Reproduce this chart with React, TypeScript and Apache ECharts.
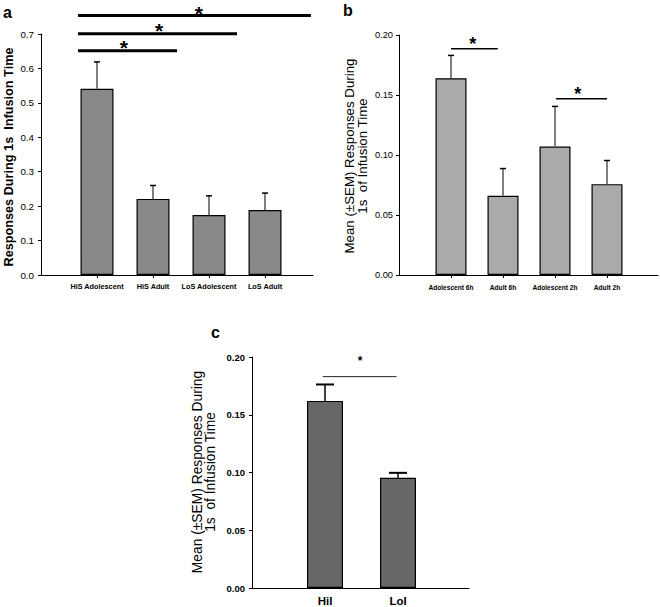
import React, { useEffect, useRef } from "react";
import * as echarts from "echarts";

// ---------- Data ----------
const A_CATS = ["HiS Adolescent", "HiS Adult", "LoS Adolescent", "LoS Adult"];
const A_POS = [1, 2, 3, 4];
const A_MEANS = [0.541, 0.221, 0.174, 0.189];
const A_SEM = [0.078, 0.039, 0.056, 0.049];
const A_TICKS = [0, 0.1, 0.2, 0.3, 0.4, 0.5, 0.6, 0.7];
// [x1, x2, y]
const A_SIG = [
  [0.66, 2.43, 0.651],
  [0.66, 3.5, 0.701],
  [0.66, 4.82, 0.754],
];
// [x, y]
const A_STARS = [
  [1.48, 0.674],
  [2.11, 0.725],
  [2.82, 0.7745],
];

const B_CATS = ["Adolescent 6h", "Adult 6h", "Adolescent 2h", "Adult 2h"];
const B_POS = [1, 2, 3, 4];
const B_MEANS = [0.164, 0.066, 0.107, 0.0757];
const B_SEM = [0.019, 0.0227, 0.0335, 0.0197];
const B_SIG = [
  [1.0, 1.9, 0.1886],
  [3.02, 4.0, 0.1469],
];
const B_STARS = [
  [1.42, 0.1958],
  [3.44, 0.1541],
];

const C_CATS = ["HiI", "LoI"];
const C_POS = [1, 2];
const C_MEANS = [0.162, 0.0954];
const C_SEM = [0.0142, 0.0043];
const C_SIG = [[0.97, 1.98, 0.183]];
const C_STARS = [[1.48, 0.1986]];

const FONT = "'Liberation Sans', Arial, sans-serif";

function errSeries(idx: number, pos: number[], means: number[], sem: number[], cap: number, stroke: string, lw: number, capW: number) {
  return {
    type: "custom",
    xAxisIndex: idx,
    yAxisIndex: idx,
    z: 5,
    data: pos.map((p, i) => [p, means[i], means[i] + sem[i]]),
    renderItem: (params: any, api: any) => {
      const x = api.value(0);
      const m = api.value(1);
      const t = api.value(2);
      const p0 = api.coord([x, m]);
      const p1 = api.coord([x, t]);
      return {
        type: "group",
        children: [
          { type: "line", shape: { x1: p0[0], y1: p0[1], x2: p1[0], y2: p1[1] }, style: { stroke, lineWidth: lw } },
          { type: "line", shape: { x1: p1[0] - cap / 2, y1: p1[1], x2: p1[0] + cap / 2, y2: p1[1] }, style: { stroke: "#000", lineWidth: capW } },
        ],
      };
    },
  };
}

function sigSeries(idx: number, sig: number[][], lw: number, color: string) {
  return {
    type: "custom",
    xAxisIndex: idx,
    yAxisIndex: idx,
    z: 5,
    clip: false,
    data: sig,
    renderItem: (params: any, api: any) => {
      const p0 = api.coord([api.value(0), api.value(2)]);
      const p1 = api.coord([api.value(1), api.value(2)]);
      return { type: "line", shape: { x1: p0[0], y1: p0[1], x2: p1[0], y2: p1[1] }, style: { stroke: color, lineWidth: lw } };
    },
  };
}

function starSeries(idx: number, stars: number[][], fs: number) {
  return {
    type: "custom",
    xAxisIndex: idx,
    yAxisIndex: idx,
    z: 5,
    clip: false,
    data: stars,
    renderItem: (params: any, api: any) => {
      const p = api.coord([api.value(0), api.value(1)]);
      return {
        type: "text",
        style: {
          text: "*",
          x: p[0],
          y: p[1] + 0.225 * fs,
          align: "center",
          verticalAlign: "middle",
          font: `bold ${fs}px ${FONT}`,
          fill: "#000",
        },
      };
    },
  };
}

function xAxis(idx: number, max: number, pos: number[], cats: string[], fs: number, margin: number, ticks: boolean) {
  return {
    type: "value",
    gridIndex: idx,
    min: 0,
    max,
    splitLine: { show: false },
    axisLine: { show: true, lineStyle: { color: "#000", width: 1 } },
    axisTick: { show: ticks, customValues: pos, length: 3, inside: false, lineStyle: { color: "#000" } },
    axisLabel: {
      customValues: pos,
      formatter: (v: number) => cats[Math.round(v) - 1] ?? "",
      fontSize: fs,
      fontWeight: "bold",
      fontFamily: FONT,
      color: "#000",
      margin,
    },
  };
}

function yAxis(idx: number, max: number, interval: number, digits: number, fs: number, bold: boolean, margin: number) {
  return {
    type: "value",
    gridIndex: idx,
    min: 0,
    max,
    interval,
    splitLine: { show: false },
    axisLine: { show: true, lineStyle: { color: "#000", width: 1 } },
    axisTick: { show: true, length: 3, inside: false, lineStyle: { color: "#000" } },
    axisLabel: {
      formatter: (v: number) => v.toFixed(digits),
      fontSize: fs,
      fontWeight: bold ? "bold" : "normal",
      fontFamily: FONT,
      color: "#000",
      margin,
    },
  };
}

function barSeries(idx: number, pos: number[], means: number[], color: string, w: number) {
  return {
    type: "bar",
    xAxisIndex: idx,
    yAxisIndex: idx,
    barWidth: w,
    data: pos.map((p, i) => [p, means[i]]),
    itemStyle: { color, borderColor: "#000", borderWidth: 1.2 },
  };
}

export default function App() {
  const ref = useRef<HTMLDivElement>(null);
  useEffect(() => {
    if (!ref.current) return;
    const chart = echarts.init(ref.current, null, { renderer: "svg" });
    const option: any = {
      animation: false,
      backgroundColor: "#fff",
      grid: [
        { left: 41, top: 34, width: 272, height: 241 },
        { left: 399, top: 35, width: 259, height: 240 },
        { left: 252, top: 357, width: 217, height: 232 },
      ],
      xAxis: [
        xAxis(0, 272 / 56, A_POS, A_CATS, 7.3, 8, true),
        xAxis(1, 259 / 52, B_POS, B_CATS, 6.6, 9, true),
        xAxis(2, 217 / 73, C_POS, C_CATS, 11.5, 7, false),
      ],
      yAxis: [
        yAxis(0, A_TICKS[A_TICKS.length - 1], 0.1, 1, 9.8, false, 7),
        yAxis(1, 0.2, 0.05, 2, 9.3, false, 6),
        yAxis(2, 0.2, 0.05, 2, 9.5, true, 7),
      ],
      graphic: [
        { type: "text", x: 3, y: 4, style: { text: "a", font: `bold 16px ${FONT}`, fill: "#000" } },
        { type: "text", x: 343, y: 2, style: { text: "b", font: `bold 16px ${FONT}`, fill: "#000" } },
        { type: "text", x: 211, y: 324, style: { text: "c", font: `bold 16px ${FONT}`, fill: "#000" } },
        {
          type: "text",
          x: 9,
          y: 157,
          rotation: Math.PI / 2,
          style: { text: "Responses During 1s  Infusion Time", font: `bold 12.7px ${FONT}`, fill: "#000", align: "center", verticalAlign: "middle" },
        },
        {
          type: "text",
          x: 356,
          y: 156,
          rotation: Math.PI / 2,
          style: {
            text: "Mean (±SEM) Responses During\n1s  of Infusion Time",
            font: `13.3px ${FONT}`,
            lineHeight: 12.5,
            fill: "#000",
            align: "center",
            verticalAlign: "middle",
          },
        },
        {
          type: "text",
          x: 204,
          y: 472,
          rotation: Math.PI / 2,
          style: {
            text: "Mean (±SEM) Responses During\n1s  of Infusion Time",
            font: `13.8px ${FONT}`,
            lineHeight: 12.5,
            fill: "#000",
            align: "center",
            verticalAlign: "middle",
          },
        },
      ],
      series: [
        barSeries(0, A_POS, A_MEANS, "#898989", 33),
        barSeries(1, B_POS, B_MEANS, "#aaaaaa", 31),
        barSeries(2, C_POS, C_MEANS, "#676767", 36),
        errSeries(0, A_POS, A_MEANS, A_SEM, 6, "#555", 1.5, 1.5),
        errSeries(1, B_POS, B_MEANS, B_SEM, 6, "#555", 1.5, 1.5),
        errSeries(2, C_POS, C_MEANS, C_SEM, 18, "#000", 1.5, 2),
        sigSeries(0, A_SIG, 3, "#000"),
        sigSeries(1, B_SIG, 1.5, "#000"),
        sigSeries(2, C_SIG, 1, "#222"),
        starSeries(0, A_STARS, 21),
        starSeries(1, B_STARS, 18),
        starSeries(2, C_STARS, 12),
      ],
    };
    chart.setOption(option);
    return () => chart.dispose();
  }, []);
  return <div ref={ref} style={{ position: "absolute", left: 0, top: 0, width: 660, height: 607 }} />;
}
